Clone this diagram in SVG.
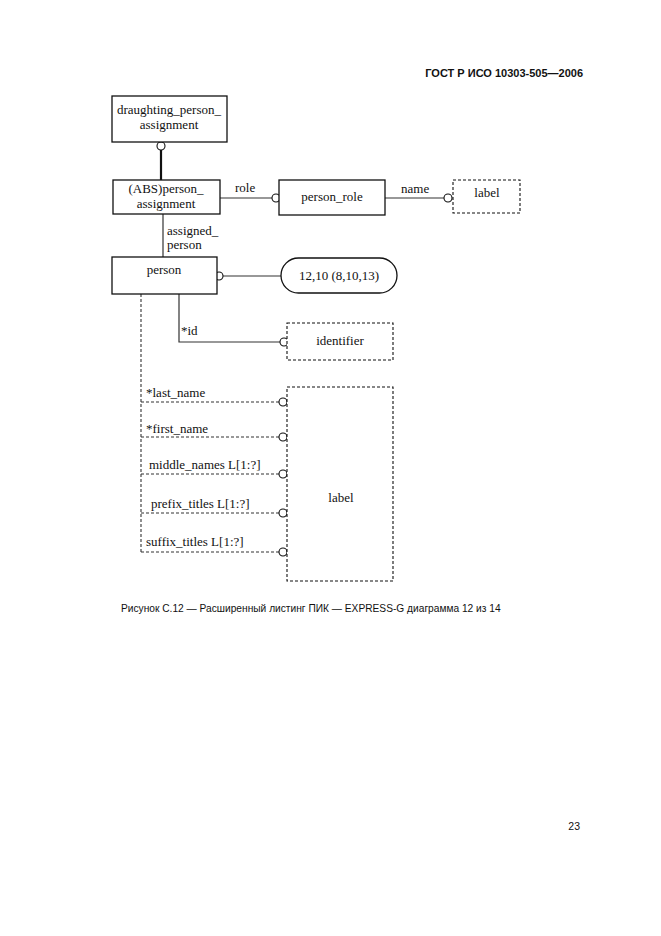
<svg xmlns="http://www.w3.org/2000/svg" width="661" height="936" viewBox="0 0 661 936">
<style>
.t{font-family:"Liberation Serif","Times New Roman",serif;font-size:13px;fill:#111}
.c{text-anchor:middle}
.box{fill:#fff;stroke:#111;stroke-width:1.3}
.dbox{fill:#fff;stroke:#111;stroke-width:1.1;stroke-dasharray:3,2}
.ln{stroke:#333;stroke-width:1.2;fill:none}
.dln{stroke:#333;stroke-width:1.1;fill:none;stroke-dasharray:3,2}
.ci{fill:#fff;stroke:#111;stroke-width:1.1}
.s{font-family:"Liberation Sans",Arial,sans-serif;fill:#111}
</style>
<rect width="661" height="936" fill="#fff"/>
<text class="s" x="583" y="77" font-size="11" font-weight="bold" text-anchor="end">ГОСТ Р ИСО 10303-505—2006</text>
<g id="connectors">
<line x1="161" y1="150" x2="161" y2="180" style="stroke:#111;stroke-width:2.2"/>
<circle class="ci" cx="161" cy="146" r="4"/>
<line class="ln" x1="220" y1="198" x2="272" y2="198"/>
<circle class="ci" cx="276" cy="198" r="4"/>
<text class="t" x="235" y="192">role</text>
<line class="ln" x1="385" y1="198" x2="444" y2="198"/>
<circle class="ci" cx="448" cy="198" r="4"/>
<text class="t" x="401" y="193">name</text>
<line class="ln" x1="163" y1="214" x2="163" y2="257"/>
<text class="t" x="167" y="235">assigned_</text>
<text class="t" x="167" y="249">person</text>
<line class="ln" x1="223" y1="276" x2="281" y2="276"/>
<circle class="ci" cx="219" cy="276" r="4"/>
<polyline class="ln" points="179,294 179,342 280,342"/>
<circle class="ci" cx="284" cy="342" r="4"/>
<text class="t" x="181" y="335">*id</text>
<line class="dln" x1="141" y1="294" x2="141" y2="552"/>
<line class="dln" x1="141" y1="402" x2="279" y2="402"/>
<line class="dln" x1="141" y1="437" x2="279" y2="437"/>
<line class="dln" x1="141" y1="474" x2="279" y2="474"/>
<line class="dln" x1="141" y1="513" x2="279" y2="513"/>
<line class="dln" x1="141" y1="552" x2="279" y2="552"/>
<circle class="ci" cx="283" cy="402" r="4"/>
<circle class="ci" cx="283" cy="437" r="4"/>
<circle class="ci" cx="283" cy="474" r="4"/>
<circle class="ci" cx="283" cy="513" r="4"/>
<circle class="ci" cx="283" cy="552" r="4"/>
<text class="t" x="146" y="397">*last_name</text>
<text class="t" x="146" y="433">*first_name</text>
<text class="t" x="149" y="469">middle_names L[1:?]</text>
<text class="t" x="151" y="508">prefix_titles L[1:?]</text>
<text class="t" x="146" y="546">suffix_titles L[1:?]</text>
</g>
<g id="draughting_person_assignment">
<rect class="box" x="112" y="96" width="115" height="46"/>
<text class="t c" x="169" y="114">draughting_person_</text>
<text class="t c" x="169" y="129">assignment</text>
</g>
<g id="person_assignment">
<rect class="box" x="113" y="180" width="107" height="34"/>
<text class="t c" x="166" y="193">(ABS)person_</text>
<text class="t c" x="166" y="208">assignment</text>
</g>
<g id="person_role">
<rect class="box" x="279" y="180" width="106" height="35"/>
<text class="t c" x="332" y="201">person_role</text>
</g>
<g id="label1">
<rect class="dbox" x="453" y="180" width="67" height="33"/>
<text class="t c" x="487" y="197">label</text>
</g>
<g id="person">
<rect class="box" x="112" y="257" width="105" height="37"/>
<text class="t c" x="164" y="274">person</text>
</g>
<g id="ref_12_10">
<rect class="box" x="281" y="258" width="116" height="35" rx="17.5" ry="17.5"/>
<text class="t c" x="339" y="280">12,10 (8,10,13)</text>
</g>
<g id="identifier">
<rect class="dbox" x="287" y="323" width="106" height="37"/>
<text class="t c" x="340" y="345">identifier</text>
</g>
<g id="label2">
<rect class="dbox" x="287" y="387" width="106" height="194"/>
<text class="t c" x="341" y="502">label</text>
</g>
<text class="s" x="121" y="612" font-size="10.2">Рисунок С.12 — Расширенный листинг ПИК — EXPRESS-G диаграмма 12 из 14</text>
<text class="s" x="580" y="830" font-size="10.5" text-anchor="end">23</text>
</svg>
